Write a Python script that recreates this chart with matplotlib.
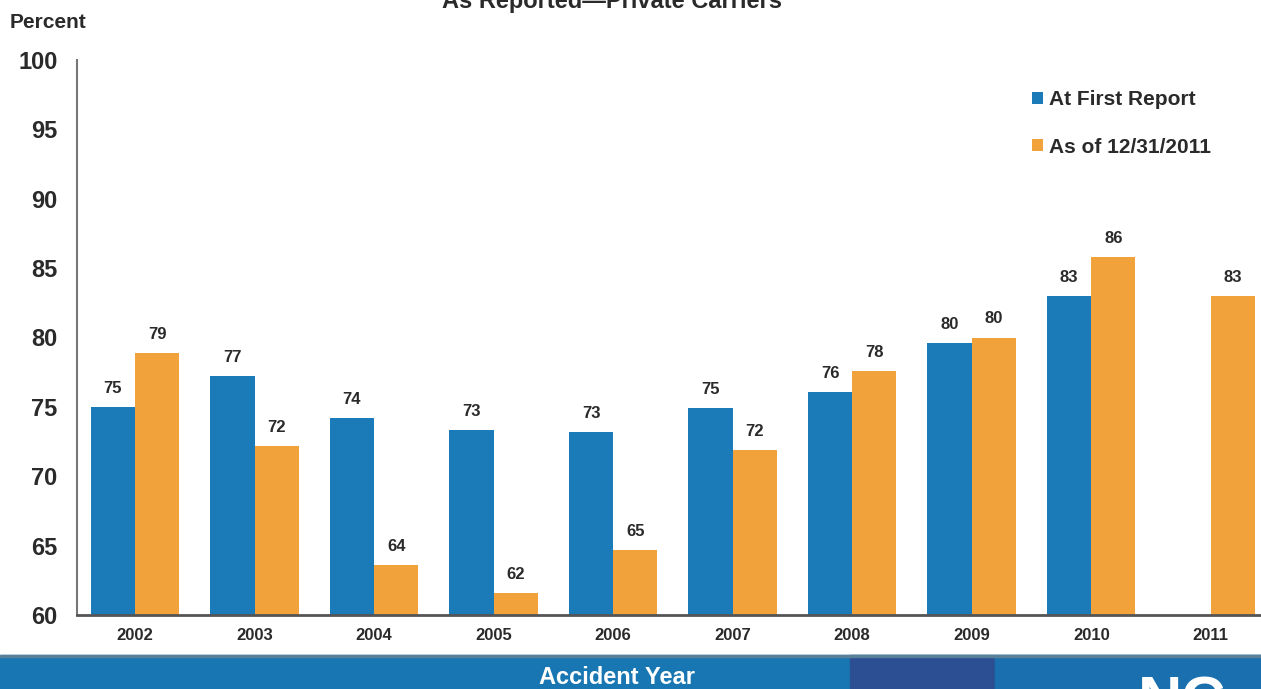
import numpy as np
import matplotlib.pyplot as plt
from matplotlib.patches import Rectangle

years = ['2002', '2003', '2004', '2005', '2006', '2007', '2008', '2009', '2010', '2011']
first_report = [75.0, 77.2, 74.2, 73.3, 73.2, 74.9, 76.1, 79.6, 83.0, np.nan]
as_of_2011 = [78.9, 72.2, 63.6, 61.6, 64.7, 71.9, 77.6, 80.0, 85.8, 83.0]

blue = '#1b7bb9'
orange = '#f2a23a'
txt = '#2a2a2a'

plt.rcParams['font.family'] = ['Liberation Sans', 'DejaVu Sans']
plt.rcParams['font.weight'] = 'bold'

fig = plt.figure(figsize=(12.61, 6.89), dpi=100)
ax = fig.add_axes([77 / 1261, 1 - 615 / 689, 1 - 77 / 1261, (615 - 60) / 689])

x = np.arange(len(years))
w = 0.37
b1 = ax.bar(x - w / 2, first_report, w, color=blue, label='At First Report')
b2 = ax.bar(x + w / 2, as_of_2011, w, color=orange, label='As of 12/31/2011')

for bars, vals in [(b1, first_report), (b2, as_of_2011)]:
    for r, v in zip(bars, vals):
        if np.isnan(v):
            continue
        ax.annotate(f'{round(v)}', (r.get_x() + r.get_width() / 2, v),
                    xytext=(0, 8), textcoords='offset points',
                    ha='center', va='bottom', fontsize=12, color=txt, fontweight='bold')

ax.set_ylim(60, 100)
ax.set_yticks(range(60, 101, 5))
ax.set_xlim(-0.485, 9.42)
ax.set_xticks(x)
ax.set_xticklabels(years)
ax.tick_params(axis='y', length=0, labelsize=17, labelcolor=txt, pad=14)
ax.tick_params(axis='x', length=0, labelsize=12, labelcolor=txt, pad=9)
for lbl in ax.get_xticklabels() + ax.get_yticklabels():
    lbl.set_fontweight('bold')

for s in ['top', 'right']:
    ax.spines[s].set_visible(False)
ax.spines['left'].set_color('#777777')
ax.spines['left'].set_linewidth(1.5)
ax.spines['bottom'].set_color('#555555')
ax.spines['bottom'].set_linewidth(2)

leg = ax.legend(loc='upper left', bbox_to_anchor=(1022 / 1261, 1 - 80 / 689),
                bbox_transform=fig.transFigure, frameon=False, borderpad=0,
                fontsize=15, handlelength=0.5, handleheight=0.5, handletextpad=0.3,
                labelspacing=1.35)
for t in leg.get_texts():
    t.set_fontweight('bold')
    t.set_color(txt)

fig.text(10 / 1261, 1 - 22 / 689, 'Percent', fontsize=15, fontweight='bold',
         color=txt, va='center', ha='left')
fig.text(612 / 1261, 1 - 8 / 689, 'As Reported\u2014Private Carriers', fontsize=17,
         fontweight='bold', color=txt, ha='center', va='baseline')

# bottom band
band_y = 0
band_h = (689 - 655) / 689
fig.patches.append(Rectangle((0, band_y), 1, band_h, transform=fig.transFigure,
                             color='#1877b3', zorder=0))
fig.patches.append(Rectangle((850 / 1261, band_y), 145 / 1261, band_h,
                             transform=fig.transFigure, color='#2c4f93', zorder=0))
fig.patches.append(Rectangle((995 / 1261, band_y), 266 / 1261, band_h,
                             transform=fig.transFigure, color='#1a6fae', zorder=0))
fig.patches.append(Rectangle((0, band_y + band_h - 2 / 689), 1, 2 / 689,
                             transform=fig.transFigure, color='#5a7f99', zorder=0))
fig.text(617 / 1261, 1 - 677 / 689, 'Accident Year', fontsize=17, fontweight='bold',
         color='white', ha='center', va='center')
fig.text(1182 / 1261, 1 - 704 / 689, 'NC', fontsize=44, fontweight='bold',
         color='white', ha='center', va='center')

fig.savefig('out.png', dpi=100)
